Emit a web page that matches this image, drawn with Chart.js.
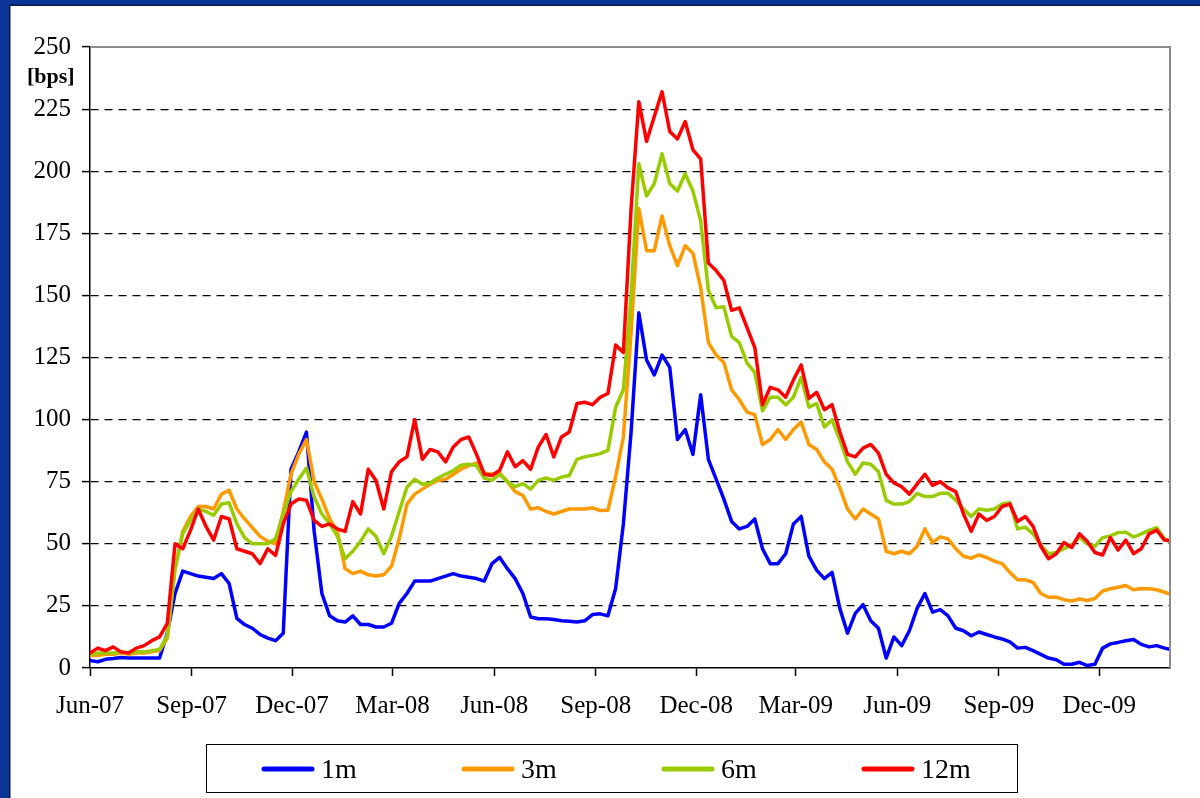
<!DOCTYPE html>
<html>
<head>
<meta charset="utf-8">
<script src="https://cdn.jsdelivr.net/npm/chart.js@4.4.1/dist/chart.umd.min.js"></script>
<style>
  html, body { margin: 0; padding: 0; background: #ffffff; }
  #wrap { position: absolute; left: 0; top: 0; width: 1200px; height: 798px; }
</style>
</head>
<body>
<div id="wrap"><canvas id="c" width="1200" height="798"></canvas></div>
<script>
// x positions: days since 1 Jun 2007 (roughly weekly observations)
const days = [0,7,14,21,28,35,42,49,56,63,70,77,84,91,98,105,112,119,126,133,
140,147,154,161,168,175,182,189,196,203,210,217,224,231,238,245,252,259,266,273,
280,287,294,301,308,315,322,329,336,343,350,357,364,371,378,385,392,399,406,413,
420,427,434,441,448,455,462,469,476,483,490,497,504,511,518,525,532,539,546,553,
560,567,574,581,588,595,602,609,616,623,630,637,644,651,658,665,672,679,686,693,
700,707,714,721,728,735,742,749,756,763,770,777,784,791,798,805,812,819,826,833,
840,847,854,861,868,875,882,889,896,903,910,917,924,931,938,945,952,959,966,973,978];

// quarterly tick positions (days since 1 Jun 2007) and their labels
const tickDays = [0,92,183,274,366,458,549,639,731,823,914];
const tickLabels = ['Jun-07','Sep-07','Dec-07','Mar-08','Jun-08','Sep-08','Dec-08','Mar-09','Jun-09','Sep-09','Dec-09'];

const seriesNames = ['1m','3m','6m','12m'];
const seriesColors = ['#0000ff','#ff9900','#99cc00','#ff0000'];

const s1m = [3,2.5,3.5,3.8,4.2,4,4,4,4,4,14,30,39,38,37,36.5,36,38,34,20,
17.5,16,13.5,12,11,14,80,87,95,55,30,21,19,18.5,21,17.5,17.5,16.5,16.5,18,
26,30,35,35,35,36,37,38,37,36.5,36,35,42,44.5,40,36,30,20.5,19.8,19.8,
19.5,19,18.8,18.5,19,21.5,21.8,21,32,58,95,143,124,118,126,121,92,96,86,110,
84,76,68,59,56,57,60,48,42,42,46,58,61,45,39.4,36,38.5,24,14,22,
25.5,19,16,4,12.5,9,15,24,30,22.5,23.5,21,16,15,13,14.5,13.5,12.5,11.7,10.5,
8,8.3,7,5.5,4,3.3,1.5,1.5,2.3,1,1.5,8,9.7,10.3,11,11.5,9.5,8.5,9,8,7.5];

const s3m = [5,5,5.5,5.5,6,5.5,6,6,6.5,7,12,40,55,61,65,65,64,70,71.5,64,
60,56.5,53,51,50,63,78,86,92,75,68,60,55,40,38,39,37.5,37,37.5,41,
52,66,70,72,74,75.5,76,78,80,81.5,82.5,78.5,78,78.5,75,71,69.5,64,64.5,63,
62,63,64,64,64,64.5,63.4,63.5,77,93,135,185,168,168,182,170,162,170,167,153,
131,126,123,112,108,103,102,90,92,96,92,96,99,90,88,83,80,72.5,64,60,
64,62,60,47,46,47,46,49,56,50.5,52.8,52,48,45,44.2,45.5,44.5,43,42,38.5,
35.5,35.5,34.5,30,28.5,28.5,27.5,27,27.8,27.2,28,31,31.9,32.5,33.2,31.5,32,31.9,31.5,30.5,29.8];

const s6m = [5.5,6,6,6,6.5,6,6.5,6.5,7,7.5,13,40,54,59.4,64,63,61.5,66,66.5,58,
52.5,50,50,50,52,62,71,76,80.5,68.8,62,58,53,44,47,51,56,53,46,53,
63,72.8,76,74,74.5,76.5,78,79.5,81.6,82,81.5,76.5,75.5,78,75,73,74.2,72,75.5,76.5,
75.5,76.9,77.5,84,85,85.6,86.3,87.6,105,112,150,203,190,195,207,195,192,199,192,180,
152,145,145.4,133.5,131,122.7,119,103.5,109,109,106,109,117,105,106.5,97,99.9,91.8,83,78,
82.5,82,79,67.5,66,66,67,70.3,69,69,70.3,70.3,67.6,64,61,64,63.5,64,66,66.5,
56,56.7,54,49.5,46,46.5,48,49.5,52.7,50,49,52.5,53.2,54.5,54.7,52.7,54,55.4,56.5,52,50.7];

const s12m = [6,8,7,8.5,6.5,6,8,9,11,12.5,18,50,48,55.4,64,57,51.5,61,60,48,
47,46,42,48,45.3,58,66,68,67.5,59.4,57,58,56,55,67,62,80,75.5,64,79,
83,85,100,84,88,87,83,89,92,93,86,78,77.5,79.6,87,81,83.5,80,89,94,
85,93,95,106.5,107,106,109,110.5,130,127,185,228,212,222,232,216,213,220,208.6,205,
163,160,156,144,145,137,129,106,113,112,109,116,122,108.5,111,104,106,95,86,85,
88.5,90,86.5,78,74.5,73,70,74,78,73.5,75,72.5,71,62,55,62,59.4,61,65,66,
59,61,57,49,44,46,50.5,48.5,54,51,46.5,45.5,52.5,47.5,51.5,46,48,54,55.5,51.5,51.3];

const yMin = 0, yMax = 250, yStep = 25;

function pts(arr) { return arr.map((v, i) => ({ x: days[i], y: v })); }

const valueSets = [s1m, s3m, s6m, s12m];
const datasets = valueSets.map((arr, k) => ({
  label: seriesNames[k],
  data: pts(arr),
  borderColor: seriesColors[k],
  backgroundColor: seriesColors[k],
  borderWidth: 3.5,
  pointRadius: 0,
  tension: 0,
  order: 4 - k,
  borderJoinStyle: 'round',
  borderCapStyle: 'round'
}));

const SERIF = '"Liberation Serif", "Times New Roman", serif';

const framePlugin = {
  id: 'frame',
  beforeDraw(chart) {
    const ctx = chart.ctx;
    ctx.save();
    ctx.fillStyle = '#ffffff';
    ctx.fillRect(0, 0, chart.width, chart.height);
    // blue slide frame
    const g = ctx.createLinearGradient(0, 0, 0, chart.height);
    g.addColorStop(0, '#0a3596');
    g.addColorStop(1, '#0b3496');
    ctx.fillStyle = g;
    ctx.fillRect(0, 0, chart.width, 5);
    ctx.fillRect(0, 0, 9, chart.height);
    ctx.fillStyle = '#061a4a';
    ctx.fillRect(9, 5, 1.5, chart.height);
    ctx.fillRect(9, 4.5, chart.width, 1.5);
    ctx.restore();
  },
  afterDatasetsDraw(chart) {
    const ctx = chart.ctx;
    const a = chart.chartArea;
    ctx.save();
    // gray top/right plot border
    ctx.strokeStyle = '#8c8c8c';
    ctx.lineWidth = 2;
    ctx.beginPath();
    ctx.moveTo(a.left, a.top);
    ctx.lineTo(a.right, a.top);
    ctx.lineTo(a.right, a.bottom);
    ctx.stroke();
    // unit label
    ctx.fillStyle = '#000';
    ctx.font = 'bold 22px ' + SERIF;
    ctx.textBaseline = 'middle';
    ctx.textAlign = 'left';
    ctx.fillText('[bps]', 27, 77);
    // legend box
    ctx.strokeStyle = '#000';
    ctx.lineWidth = 1;
    ctx.strokeRect(206.5, 744.5, 811, 48);
    ctx.font = '28px ' + SERIF;
    chart.data.datasets.forEach((ds, i) => {
      const x0 = 264 + 200 * i;
      ctx.strokeStyle = ds.borderColor;
      ctx.lineWidth = 5;
      ctx.lineCap = 'round';
      ctx.beginPath();
      ctx.moveTo(x0, 769);
      ctx.lineTo(x0 + 48, 769);
      ctx.stroke();
      ctx.fillStyle = '#000';
      ctx.textBaseline = 'middle';
      ctx.fillText(ds.label, x0 + 57, 771);
    });
    ctx.restore();
  }
};

new Chart(document.getElementById('c'), {
  type: 'line',
  data: { datasets },
  plugins: [framePlugin],
  options: {
    responsive: false,
    animation: false,
    events: [],
    layout: { padding: { left: 0, top: 47, right: 30, bottom: 70 } },
    plugins: { legend: { display: false }, tooltip: { enabled: false } },
    scales: {
      x: {
        type: 'linear',
        min: 0,
        max: 978,
        afterBuildTicks(scale) { scale.ticks = tickDays.map(v => ({ value: v })); },
        afterFit(scale) { scale.height = 60; },
        ticks: {
          autoSkip: false,
          maxRotation: 0,
          padding: 15,
          color: '#000',
          font: { family: SERIF, size: 25 },
          callback(value, index) { return tickLabels[index]; }
        },
        grid: { drawOnChartArea: false, drawTicks: true, tickLength: 8, tickColor: '#000', tickWidth: 1.5 },
        border: { display: true, color: '#000', width: 1.5 }
      },
      y: {
        min: yMin,
        max: yMax,
        afterFit(scale) { scale.width = 90; },
        ticks: {
          stepSize: yStep,
          padding: 11,
          color: '#000',
          font: { family: SERIF, size: 25 }
        },
        grid: {
          drawTicks: true,
          tickLength: 8,
          tickColor: '#000',
          tickWidth: 1.5,
          lineWidth: 1.2,
          color: (c) => (c.tick && (c.tick.value === yMin || c.tick.value === yMax)) ? 'rgba(0,0,0,0)' : '#000'
        },
        border: { display: true, color: '#000', width: 1.5, dash: [8, 6] }
      }
    }
  }
});
</script>
</body>
</html>
